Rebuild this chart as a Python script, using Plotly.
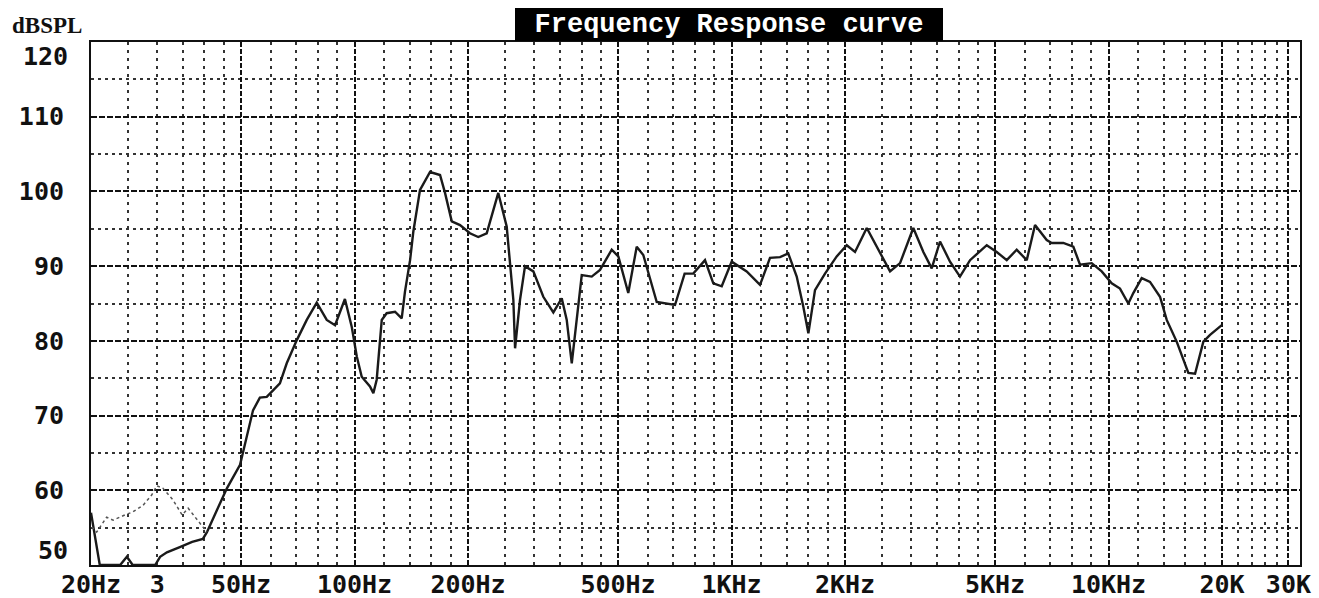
import math
import plotly.graph_objects as go

# ---- data ----
freq_main = [20, 21.1, 23.9, 24.9, 25.8, 29.6, 30.5, 31.8, 34.4, 37.1, 39.6, 40.6, 43.2, 45.9, 49.7, 51.2,
             53.8, 56.1, 58.5, 60.9, 63.4, 66.1, 70.3, 74.7, 79.4, 84.4, 88.8, 94.3, 98.3, 101.4, 104.5,
             109.9, 112.2, 114.5, 118.1, 121.7, 128.1, 133.4, 136.1, 140.4, 143.2, 149.2, 158.6, 168.6,
             173.8, 181.1, 190.5, 202.4, 212.9, 224.2, 240.6, 253.3, 258.5, 263.8, 266.6, 274.8, 283.3,
             298.1, 316.8, 336.8, 354.5, 365.5, 376.9, 392.4, 400.6, 425.8, 447.9, 481.1, 500.9, 532.3,
             560.4, 583.4, 633.3, 708.1, 737.6, 750.9, 791.7, 850.4, 894.7, 941.9, 1001, 1097, 1190,
             1265, 1345, 1414, 1489, 1550, 1599, 1665, 1770, 1901, 2021, 2126, 2284, 2476, 2633, 2799,
             3035, 3227, 3396, 3573, 3798, 4036, 4292, 4753, 5051, 5370, 5707, 6068, 6383, 6855, 7068,
             7586, 8066, 8401, 9023, 9592, 10195, 10725, 11284, 11633, 12246, 12882, 13694, 14267,
             15163, 16283, 16964, 17845, 18590, 19970]
spl_main = [57.0, 50, 50, 51.1, 50, 50, 51.1, 51.7, 52.4, 53.1, 53.5, 54.4, 57.4, 60.3, 63.4, 66.3,
            70.7, 72.4, 72.5, 73.4, 74.3, 77.0, 80.1, 82.8, 85.1, 82.8, 82.1, 85.6, 81.9, 77.9, 75.2,
            73.9, 73.0, 74.8, 82.8, 83.7, 83.9, 83.0, 86.6, 90.8, 94.6, 100.2, 102.6, 102.2,
            99.8, 96.0, 95.5, 94.4, 93.9, 94.4, 99.8, 95.3, 90.8, 85.5, 79.0, 85.5, 90.0,
            89.3, 85.9, 83.8, 85.7, 82.8, 77.0, 85.0, 88.8, 88.6, 89.5, 92.2, 91.3, 86.4,
            92.6, 91.5, 85.2, 84.8, 87.5, 89.0, 89.0, 90.8, 87.7, 87.3, 90.6, 89.3, 87.5,
            91.1, 91.2, 91.7, 88.6, 84.6, 81.0, 86.8, 89.0, 91.3, 92.8, 91.9, 95.1, 91.7, 89.3, 90.4,
            95.1, 91.9, 89.7, 93.3, 90.6, 88.6, 90.8, 92.8, 91.9, 90.8, 92.2, 90.8, 95.5, 93.5, 93.1,
            93.1, 92.6, 90.2, 90.4, 89.3, 87.7, 87.0, 85.0, 86.4, 88.4, 87.9, 85.9, 82.8,
            79.9, 75.7, 75.6, 79.9, 80.8, 82.1]

freq_low = [20.1, 20.7, 22.0, 22.9, 24.6, 25.8, 27.5, 29.0, 29.9, 31.0, 33.0, 34.9, 36.2, 37.8, 39.4, 40.6]
spl_low = [55.1, 54.4, 56.4, 56.0, 56.7, 57.1, 58.0, 59.4, 60.6, 60.3, 58.7, 56.7, 57.6, 56.4, 55.1, 54.4]

x_major = [50, 100, 200, 500, 1000, 2000, 5000, 10000, 20000, 30000]
x_minor = [25, 30, 35, 40, 45, 60, 70, 80, 90, 120, 140, 160, 180, 250, 300, 350, 400, 450,
           600, 700, 800, 900, 1200, 1400, 1600, 1800, 2500, 3000, 3500, 4000, 4500,
           6000, 7000, 8000, 9000, 12000, 14000, 16000, 18000, 22000, 24000, 26000, 28000]
x_label_vals = [20, 30, 50, 100, 200, 500, 1000, 2000, 5000, 10000, 20000, 30000]
x_label_text = ["20Hz", "3", "50Hz", "100Hz", "200Hz", "500Hz", "1KHz", "2KHz", "5KHz", "10KHz", "20K", "30K"]
y_major = [50, 60, 70, 80, 90, 100, 110, 120]
y_major_text = ["", "60", "70", "80", "90", "100", "110", ""]
y_minor = [55, 65, 75, 85, 95, 105, 115]
# end labels sit slightly inside the frame in the reference
y_end_labels = [("120", 118.0), ("50", 51.9)]

x_range = [math.log10(20), math.log10(32200)]

fig = go.Figure()
fig.add_trace(go.Scatter(x=freq_main, y=spl_main, mode="lines",
                         line=dict(color="#1a1a1a", width=2.4), showlegend=False, xaxis="x", yaxis="y"))
fig.add_trace(go.Scatter(x=freq_low, y=spl_low, mode="lines",
                         line=dict(color="#555555", width=1.5, dash="dot"), showlegend=False,
                         xaxis="x2", yaxis="y"))

label_font = dict(family="DejaVu Sans Mono", size=25, color="#111111", weight="bold")

annotations = [
    dict(text="Frequency Response curve", xref="paper", yref="paper", x=0.5277, y=1.0335,
         xanchor="center", yanchor="middle", showarrow=False, bgcolor="black",
         width=428, height=33, borderpad=0, borderwidth=0,
         font=dict(family="Liberation Mono", size=27, color="white", weight="bold")),
    dict(text="dBSPL", xref="paper", yref="paper", x=-0.067, y=1.0306,
         xanchor="left", yanchor="middle", showarrow=False,
         font=dict(family="Liberation Serif", size=23, color="#111111", weight="bold")),
]
for txt, yv in y_end_labels:
    annotations.append(dict(text=txt, xref="paper", yref="y", x=-0.0174, y=yv,
                            xanchor="right", yanchor="middle", showarrow=False, font=label_font))

fig.update_layout(
    width=1319, height=598,
    margin=dict(l=91, r=19, t=42, b=33),
    paper_bgcolor="white", plot_bgcolor="white",
    xaxis=dict(type="log", range=x_range, tickmode="array", tickvals=x_major,
               showticklabels=False, ticks="", automargin=False,
               showgrid=True, gridcolor="#111111", gridwidth=2, griddash="5px,2px",
               minor=dict(tickmode="array", tickvals=x_minor, showgrid=True, gridcolor="#333333",
                          gridwidth=2, griddash="3px,5px", ticks=""),
               showline=True, linecolor="#111111", linewidth=2, mirror=True, zeroline=False),
    xaxis2=dict(type="log", range=x_range, overlaying="x", anchor="y", side="bottom",
                tickmode="array", tickvals=x_label_vals, ticktext=x_label_text, automargin=False,
                showgrid=False, ticks="", tickfont=label_font, ticklabelstandoff=2,
                showline=False, zeroline=False),
    yaxis=dict(range=[50, 120], tickmode="array", tickvals=y_major, ticktext=y_major_text, ticks="",
               tickfont=label_font, ticklabelstandoff=20, automargin=False,
               showgrid=True, gridcolor="#111111", gridwidth=2, griddash="6px,2px",
               minor=dict(tickmode="array", tickvals=y_minor, showgrid=True, gridcolor="#333333",
                          gridwidth=1.5, griddash="3px,4px", ticks=""),
               showline=True, linecolor="#111111", linewidth=2, mirror=True, zeroline=False),
    annotations=annotations,
)

fig.write_html("out.html", config={"displayModeBar": False},
               post_script="document.body.style.margin='0';document.body.style.overflow='hidden';")
